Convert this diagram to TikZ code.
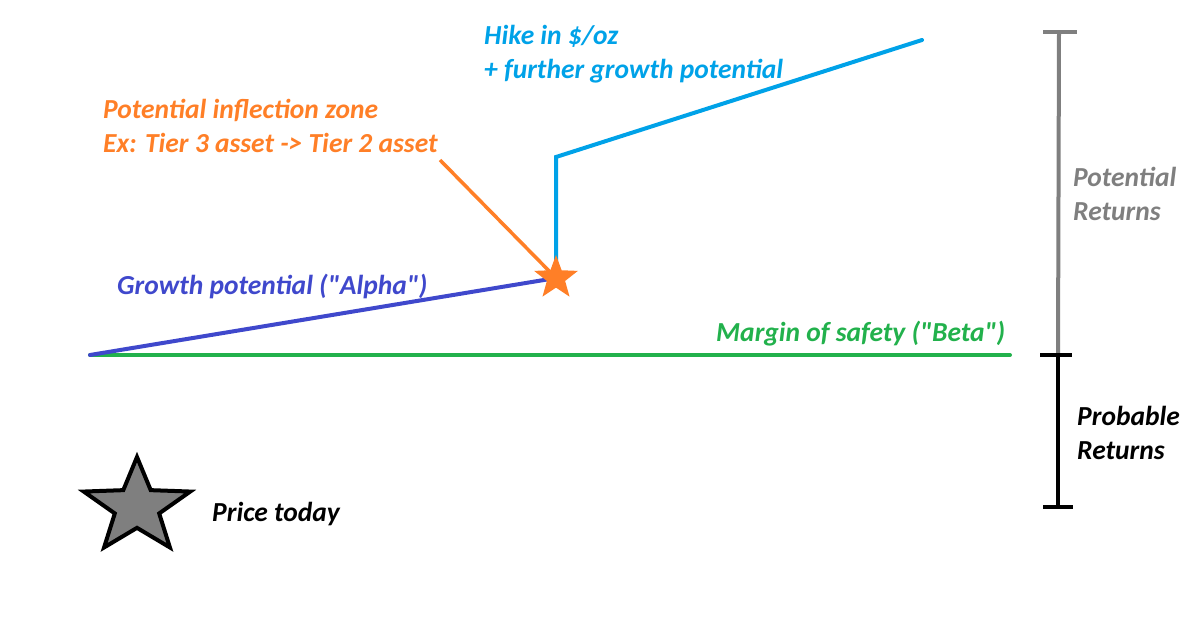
\documentclass[tikz,border=0pt]{standalone}
\usepackage{fontspec}
\setmainfont{Carlito}
\usepackage{xcolor}
\usetikzlibrary{shapes.geometric, positioning, calc}
\definecolor{safegreen}{RGB}{34, 177, 76}
\definecolor{alphablue}{RGB}{63, 72, 204}
\definecolor{hikecyan}{RGB}{0, 162, 232}
\definecolor{zoneorange}{RGB}{255, 127, 39}
\definecolor{retgray}{RGB}{127, 127, 127}
\tikzset{
    lbl/.style={anchor=west, align=left, inner sep=0pt,
                font=\fontsize{27.5}{34}\selectfont\bfseries\itshape},
    trend/.style={line width=4pt, line cap=round, line join=miter},
    bar/.style={line width=4pt, color=#1},
    fivestar/.style={star, star points=5, star point ratio=2.4,
                     inner sep=0pt, minimum size=#1},
}

\begin{document}
\begin{tikzpicture}[x=1pt, y=-1pt]
    \useasboundingbox (0,0) rectangle (1200,635);
    % base line and growth
    \coordinate (start) at (90,355);
    \coordinate (safeend) at (1010,355);
    \coordinate (hikeknee) at (556,157);
    \coordinate (hikeend) at (922,40);
    \coordinate (zonetip) at (440,160);
    \coordinate (jumpc) at (556,278);

    \draw[trend, safegreen] (start) -- (safeend);
    \draw[trend, alphablue] (start) -- (jumpc);
    \draw[trend, hikecyan] (jumpc) -- (hikeknee) -- (hikeend);
    \draw[line width=3.5pt, zoneorange] (zonetip) -- (jumpc);
    \node[fivestar=46pt, fill=zoneorange, draw=none] (jump) at (jumpc) {};

    % labels
    \node[lbl, hikecyan] (hike) at (484,54) {Hike in \$/oz\\+ further growth potential};
    \node[lbl, zoneorange] (zone) at (103,126) {Potential inflection zone\\Ex: Tier 3 asset -> Tier 2 asset};
    \node[lbl, alphablue] (alpha) at (117,286) {Growth potential (\textquotedbl Alpha\textquotedbl)};
    \node[lbl, safegreen] (beta) at (716,334) {Margin of safety (\textquotedbl Beta\textquotedbl)};

    % return bars
    \coordinate (top) at (1059,32);
    \coordinate (mid) at (1058,355);
    \coordinate (bot) at (1058,507);
    \draw[bar=retgray] (top) -- (mid);
    \draw[bar=retgray] ([xshift=-16pt]top) -- ([xshift=18pt]top);
    \draw[bar=black] (mid) -- (bot);
    \draw[bar=black] ([xshift=-18pt]mid) -- ([xshift=14pt]mid);
    \draw[bar=black] ([xshift=-15pt]bot) -- ([xshift=15pt]bot);
    \node[lbl, retgray] (potret) at (1073,194) {Potential\\Returns};
    \node[lbl, black] (probret) at (1077,433) {Probable\\Returns};

    % legend
    \begin{scope}[shift={(137,507)}, xscale=1.12]
        \node[fivestar=100pt, fill=retgray, draw=black, line width=4pt,
              transform shape] (today) at (0,0) {};
    \end{scope}
    \node[lbl, black] (todaylbl) at (212,514) {Price today};
\end{tikzpicture}
\end{document}
